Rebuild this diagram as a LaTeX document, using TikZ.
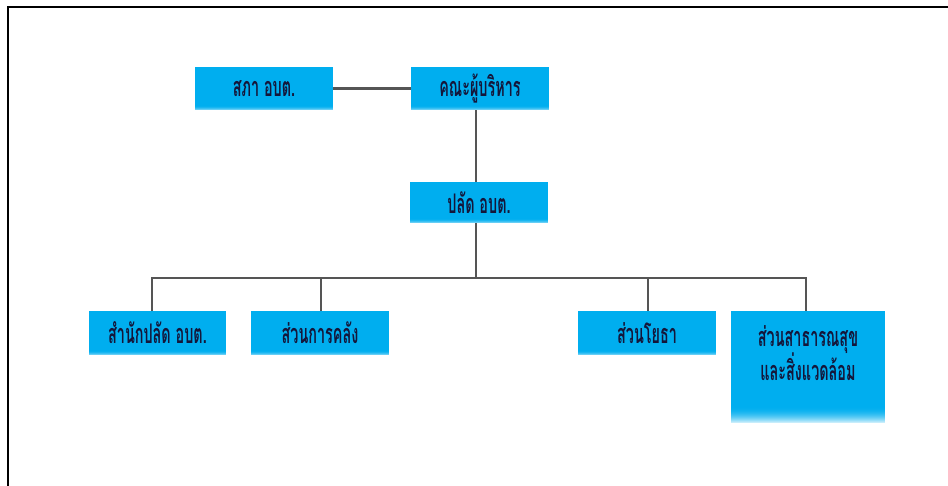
\documentclass[tikz,border=0pt]{standalone}
\usepackage{fontspec}
\newfontfamily\thaifont[Script=Thai]{Loma}
\usetikzlibrary{calc}
\definecolor{boxblue}{HTML}{00AEEF}
\definecolor{inkblue}{HTML}{14163A}
\definecolor{linegray}{HTML}{555555}
\newcommand{\thlabel}[1]{\scalebox{0.8}[1.5]{\thaifont\bfseries #1}}
% stepped light fade along the lower edge of a box:
% #1 = height of the fade in pt, #2 = percent of boxblue left at the very bottom
\newcommand{\bottomfade}[2]{%
  \foreach \k in {1,...,#1}{%
    \pgfmathsetmacro\mixval{100-(100-#2)*(\k/#1)^2}%
    \pgfmathsetmacro\upper{-(#1-\k+1)}%
    \pgfmathsetmacro\lower{-(#1-\k)}%
    \fill[boxblue!\mixval!white]
      ($(path picture bounding box.south west)+(0,\upper)$) rectangle
      ($(path picture bounding box.south east)+(0,\lower)$);
  }}
\tikzset{
  unitbox/.style={rectangle, fill=boxblue, inner sep=0pt, text=inkblue,
    font=\fontsize{18}{22}\selectfont, align=center,
    path picture={\bottomfade{4}{60}}},
  link/.style={draw=linegray, line width=2.4pt},
  frame/.style={draw=black, line width=2pt}
}
\begin{document}
\begin{tikzpicture}[x=1pt, y=-1pt]
\useasboundingbox (0,0) rectangle (948,486);
% outer frame (left and top edges)
\draw[frame] (7.5,486) -- (7.5,7.5) -- (948,7.5);

% boxes
\node[unitbox, minimum width=138pt, minimum height=43pt] (sapha) at (264,88.5) {\thlabel{สภา อบต.}};
\node[unitbox, minimum width=138pt, minimum height=43pt] (khana) at (480,88.5) {\thlabel{คณะผู้บริหาร}};
\node[unitbox, minimum width=138pt, minimum height=41pt] (palad) at (479,202.5) {\thlabel{ปลัด อบต.}};
\node[unitbox, minimum width=137pt, minimum height=44pt] (office) at (157.5,333) {\thlabel{สำนักปลัด อบต.}};
\node[unitbox, minimum width=138pt, minimum height=44pt] (finance) at (320,333) {\thlabel{ส่วนการคลัง}};
\node[unitbox, minimum width=138pt, minimum height=44pt] (works) at (647,333) {\thlabel{ส่วนโยธา}};
\node[unitbox, minimum width=154pt, minimum height=112pt, path picture={\bottomfade{16}{22}}]
  (health) at (808,367)
  {\parbox[c][104pt][t]{150pt}{\centering\vspace{11pt}\thlabel{ส่วนสาธารณสุข}\\[-2pt]\thlabel{และสิ่งแวดล้อม}}};

% branch points of the bus
\coordinate (jtop) at (476,278);
\coordinate (j1) at (152,278);
\coordinate (j2) at (321,278);
\coordinate (j3) at (648,278);
\coordinate (j4) at (806,278);

% connectors
\draw[link] (sapha.east) -- (khana.west);
\draw[link] (khana.south -| jtop) -- (palad.north -| jtop);
\draw[link] (palad.south -| jtop) -- (jtop);
\draw[link] (j1 |- office.north) -- (j1) -- (j4) -- (j4 |- health.north);
\draw[link] (j2) -- (j2 |- finance.north);
\draw[link] (j3) -- (j3 |- works.north);
\end{tikzpicture}
\end{document}
